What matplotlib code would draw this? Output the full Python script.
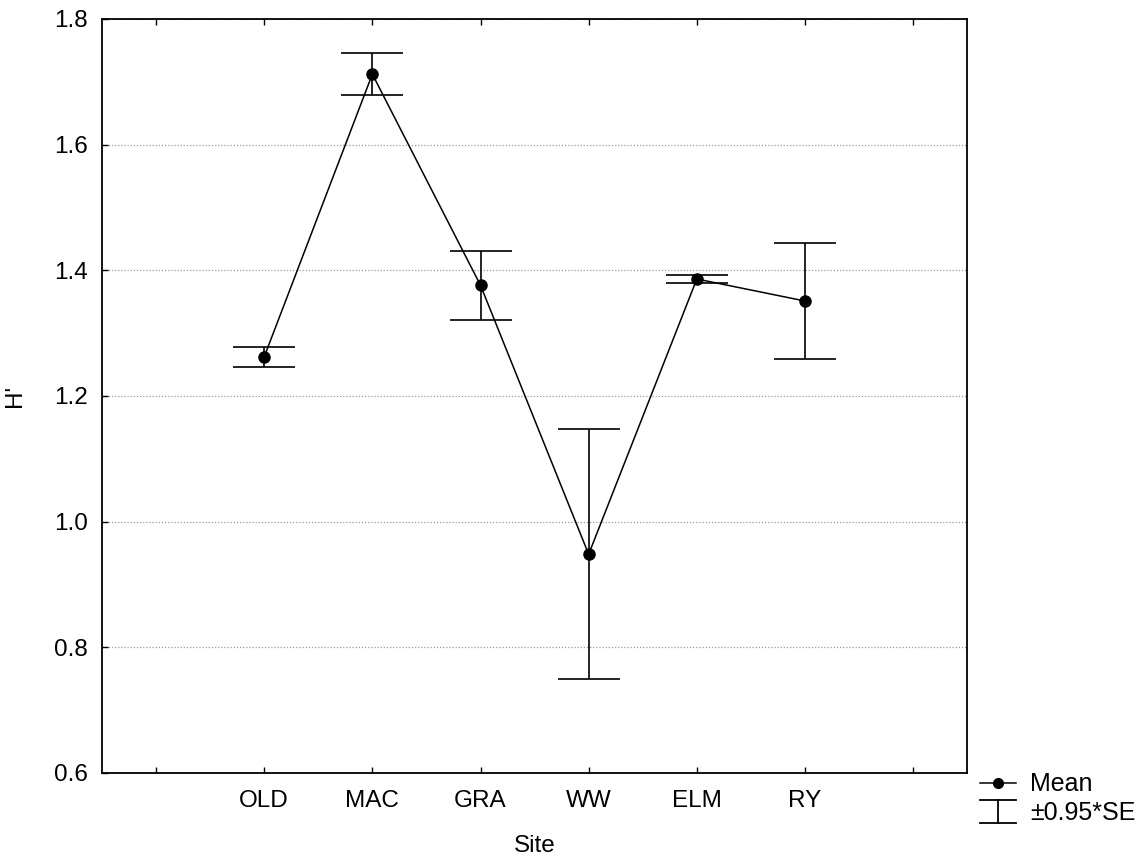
import matplotlib.pyplot as plt
from matplotlib.lines import Line2D
from matplotlib.legend_handler import HandlerBase
import numpy as np

plt.rcParams['font.family'] = ['Liberation Sans', 'DejaVu Sans']

# Shannon diversity (H') per site: mean and ±0.95*SE half-width
sites = ["OLD", "MAC", "GRA", "WW", "ELM", "RY"]
h_mean = [1.262, 1.712, 1.376, 0.948, 1.386, 1.351]
h_err = [0.016, 0.033, 0.055, 0.199, 0.006, 0.092]
y_ticks = [0.6, 0.8, 1.0, 1.2, 1.4, 1.6, 1.8]


class WhiskerHandler(HandlerBase):
    """Legend key drawn as two caps joined by a vertical stem."""

    def create_artists(self, legend, orig_handle, xdescent, ydescent,
                       width, height, fontsize, trans):
        mid = height / 2 - ydescent
        half = 0.65 * height
        top, bot = mid + half, mid - half
        kw = dict(color='black', lw=1.3, transform=trans)
        return [
            Line2D([-xdescent, width - xdescent], [top, top], **kw),
            Line2D([-xdescent, width - xdescent], [bot, bot], **kw),
            Line2D([width / 2 - xdescent] * 2, [bot, top], **kw),
        ]


fig = plt.figure(figsize=(11.43, 8.56), dpi=100)
ax = fig.add_axes([0.0892, 0.097, 0.757, 0.881])

x = np.arange(1, len(sites) + 1)

ax.errorbar(x, h_mean, yerr=h_err, fmt='none', ecolor='black',
            elinewidth=1.2, capsize=22, capthick=1.2, zorder=3)
ax.plot(x, h_mean, color='black', lw=1.1, marker='o', ms=8,
        mfc='black', mec='black', zorder=4)

ax.set_xlim(-0.5, len(sites) + 1.5)
ax.set_xticks(np.arange(0, len(sites) + 2))
ax.set_xticklabels([""] + sites + [""])
ax.set_ylim(0.6, 1.8)
ax.set_yticks(y_ticks)
ax.set_yticklabels([f"{v:.1f}" for v in y_ticks])

ax.grid(axis='y', color='#9a9a9a', ls=(0, (1, 1.5)), lw=0.9)
ax.set_axisbelow(True)

ax.tick_params(axis='both', direction='in', length=4, width=1.0,
               labelsize=17.5, colors='black', pad=10)
ax.tick_params(axis='x', top=True, labeltop=False, pad=12)
for s in ax.spines.values():
    s.set_linewidth(1.3)
    s.set_color('black')

ax.set_xlabel("Site", fontsize=17.5, labelpad=17)
ax.set_ylabel("H'", fontsize=17.5, labelpad=20)

# legend below-right, outside the plot frame
mean_h = Line2D([], [], color='black', lw=1.1, marker='o', ms=7, mfc='black')
se_h = Line2D([], [])
ax.legend([mean_h, se_h], ["Mean", "±0.95*SE"], loc='upper left',
          bbox_to_anchor=(1.012, 0.004), frameon=False, fontsize=18,
          handlelength=1.45, handletextpad=0.55, labelspacing=0.2,
          borderaxespad=0, borderpad=0.1,
          handler_map={se_h: WhiskerHandler()})

fig.savefig("out.png", dpi=100)
